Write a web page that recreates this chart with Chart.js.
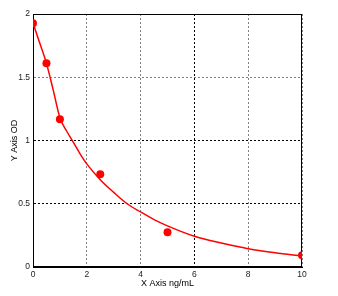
<!DOCTYPE html>
<html><head><meta charset="utf-8">
<script src="https://cdn.jsdelivr.net/npm/chart.js@4"></script>
<style>html,body{margin:0;padding:0;background:#fff}#wrap{width:338px;height:296px}</style>
</head><body><div id="wrap"><canvas id="c" width="338" height="296"></canvas></div>
<script>
// measured standard points
const stdX = [0, 0.5, 1, 2.5, 5, 10];
const stdY = [1.926, 1.61, 1.168, 0.733, 0.274, 0.092];
// fitted curve
const curveX = [0, 0.25, 0.5, 0.75, 1, 1.25, 1.5, 1.75, 2, 2.5, 3, 3.5, 4, 4.5, 5, 6, 7, 8, 9, 10];
const curveY = [1.93, 1.77, 1.61, 1.40, 1.18, 1.075, 0.985, 0.895, 0.815, 0.69, 0.59, 0.50, 0.435, 0.375, 0.325, 0.243, 0.19, 0.145, 0.112, 0.087];
const xTicks = [0, 2, 4, 6, 8, 10];
const yTicks = [0, 0.5, 1, 1.5, 2];
const xTitle = 'X Axis ng/mL';
const yTitle = 'Y Axis OD';

const darkX = [6], darkY = [1, 0.5];
const font = {family: '"Liberation Sans", Arial, sans-serif', size: 8.5};
const frame = {
  id: 'frame',
  beforeDatasetsDraw(chart) {
    const a = chart.chartArea, ctx = chart.ctx;
    ctx.save(); ctx.strokeStyle = '#000'; ctx.lineWidth = 1;
    ctx.strokeRect(Math.round(a.left) + 0.5, Math.round(a.top) + 0.5, Math.round(a.right - a.left) - 1, Math.round(a.bottom - a.top) - 1);
    ctx.restore();
  }
};
new Chart(document.getElementById('c'), {
  type: 'scatter',
  data: {
    datasets: [
      {type: 'line', data: curveX.map((x, i) => ({x, y: curveY[i]})), borderColor: '#ff0000', borderWidth: 1.5,
       pointRadius: 0, cubicInterpolationMode: 'monotone', fill: false, order: 2},
      {data: stdX.map((x, i) => ({x, y: stdY[i]})), backgroundColor: '#ff0000', borderColor: '#ff0000',
       pointRadius: 4, borderWidth: 0, order: 1}
    ]
  },
  options: {
    responsive: false, animation: false, devicePixelRatio: 1,
    layout: {padding: {top: 14, right: 36, left: 0, bottom: 0}},
    plugins: {legend: {display: false}, tooltip: {enabled: false}},
    scales: {
      x: {
        type: 'linear', min: 0, max: 10,
        afterBuildTicks: s => { s.ticks = xTicks.map(v => ({value: v})); },
        afterFit: s => { s.height = 29; },
        grid: {drawTicks: false, lineWidth: 1,
               color: c => darkX.includes(c.tick && c.tick.value) ? '#000' : '#808080'},
        border: {display: true, color: '#000', width: 1, dash: [2, 2]},
        ticks: {padding: 3, color: '#222', font, maxRotation: 0, callback: v => String(v)},
        title: {display: true, text: xTitle, color: '#000', font: {...font, size: 9}, padding: {top: 0, bottom: 7}}
      },
      y: {
        type: 'linear', min: 0, max: 2,
        afterBuildTicks: s => { s.ticks = yTicks.map(v => ({value: v})); },
        afterFit: s => { s.width = 33; },
        grid: {drawTicks: false, lineWidth: 1,
               color: c => darkY.includes(c.tick && c.tick.value) ? '#000' : '#808080'},
        border: {display: true, color: '#000', width: 1, dash: [2, 2]},
        ticks: {padding: 3, color: '#222', font, callback: v => String(v)},
        title: {display: true, text: yTitle, color: '#000', font: {...font, size: 9}, padding: {top: 9, bottom: 0}}
      }
    }
  },
  plugins: [frame]
});
</script></body></html>
